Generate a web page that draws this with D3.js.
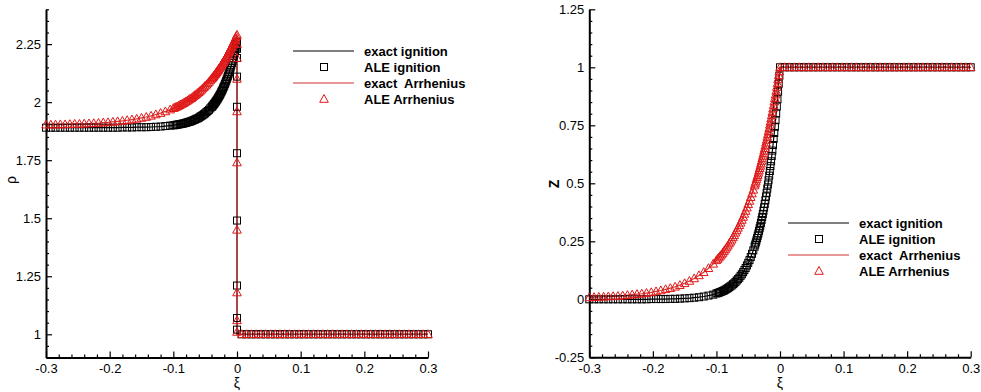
<!DOCTYPE html>
<html>
<head>
<meta charset="utf-8">
<script src="https://cdn.jsdelivr.net/npm/d3@7"></script>
<style>
  body { margin: 0; background: #fff; }
  text { font-family: "Liberation Sans", Arial, Helvetica, sans-serif; }
</style>
</head>
<body>
<svg id="chart" width="981" height="392"></svg>
<script>
// ALE mesh points ahead of the front (xi <= 0), refined close to the front
const xiFront = [-0.3, -0.2925, -0.285, -0.2775, -0.27, -0.2625, -0.255, -0.2475, -0.24, -0.2325,
  -0.225, -0.2175, -0.21, -0.2025, -0.195, -0.1875, -0.18, -0.1725, -0.165, -0.1575,
  -0.15, -0.1425, -0.135, -0.1275, -0.12, -0.1125, -0.105,
  -0.1, -0.098, -0.096, -0.094, -0.092, -0.09, -0.088, -0.086, -0.084, -0.082,
  -0.08, -0.078, -0.076, -0.074, -0.072, -0.07, -0.068, -0.066, -0.064, -0.062,
  -0.06, -0.058, -0.056, -0.054, -0.052, -0.05, -0.048, -0.046, -0.044, -0.042, -0.04,
  -0.039, -0.038, -0.037, -0.036, -0.035, -0.034, -0.033, -0.032, -0.031, -0.03,
  -0.029, -0.028, -0.027, -0.026, -0.025, -0.024, -0.023, -0.022, -0.021, -0.02,
  -0.019, -0.018, -0.017, -0.016, -0.015, -0.014, -0.013, -0.012, -0.011, -0.01,
  -0.009, -0.008, -0.007, -0.006, -0.005, -0.004, -0.003, -0.002, -0.001, 0];

const rhoIgnition = [1.890, 1.890, 1.890, 1.890, 1.890, 1.890, 1.890, 1.890, 1.890, 1.890,
  1.890, 1.890, 1.890, 1.890, 1.890, 1.890, 1.891, 1.891, 1.891, 1.892,
  1.892, 1.892, 1.893, 1.894, 1.895, 1.897, 1.899,
  1.900, 1.901, 1.902, 1.903, 1.904, 1.905, 1.906, 1.907, 1.908, 1.910,
  1.911, 1.913, 1.915, 1.916, 1.918, 1.920, 1.923, 1.925, 1.928, 1.930,
  1.933, 1.937, 1.940, 1.944, 1.948, 1.952, 1.957, 1.962, 1.967, 1.973, 1.979,
  1.982, 1.985, 1.989, 1.992, 1.996, 2.000, 2.004, 2.008, 2.012, 2.017,
  2.021, 2.026, 2.031, 2.036, 2.042, 2.047, 2.053, 2.059, 2.065, 2.071,
  2.078, 2.085, 2.092, 2.099, 2.107, 2.114, 2.123, 2.131, 2.140, 2.149,
  2.158, 2.168, 2.178, 2.189, 2.200, 2.211, 2.222, 2.234, 2.247, 2.260];

const rhoArrhenius = [1.903, 1.903, 1.903, 1.904, 1.904, 1.905, 1.906, 1.906, 1.907, 1.908,
  1.909, 1.910, 1.912, 1.913, 1.915, 1.917, 1.919, 1.922, 1.925, 1.928,
  1.932, 1.936, 1.941, 1.947, 1.953, 1.960, 1.968,
  1.974, 1.976, 1.979, 1.981, 1.984, 1.987, 1.990, 1.993, 1.996, 1.999,
  2.003, 2.006, 2.010, 2.014, 2.017, 2.021, 2.026, 2.030, 2.034, 2.039,
  2.043, 2.048, 2.053, 2.059, 2.064, 2.070, 2.075, 2.081, 2.087, 2.094, 2.100,
  2.104, 2.107, 2.110, 2.114, 2.118, 2.121, 2.125, 2.129, 2.133, 2.137,
  2.140, 2.145, 2.149, 2.153, 2.157, 2.161, 2.166, 2.170, 2.175, 2.179,
  2.184, 2.189, 2.194, 2.199, 2.204, 2.209, 2.214, 2.219, 2.225, 2.230,
  2.236, 2.241, 2.247, 2.253, 2.259, 2.265, 2.271, 2.277, 2.284, 2.290];

const zIgnition = [0, 0, 0, 0, 0, 0, 0, 0, 0, 0,
  0, 0, 0, 0.001, 0.001, 0.001, 0.001, 0.002, 0.002, 0.003,
  0.004, 0.005, 0.007, 0.009, 0.012, 0.016, 0.020,
  0.025, 0.027, 0.029, 0.031, 0.033, 0.036, 0.038, 0.041, 0.045, 0.048,
  0.052, 0.056, 0.060, 0.065, 0.069, 0.075, 0.081, 0.087, 0.093, 0.101,
  0.108, 0.117, 0.126, 0.135, 0.146, 0.157, 0.169, 0.182, 0.196, 0.211, 0.227,
  0.236, 0.245, 0.254, 0.264, 0.274, 0.284, 0.295, 0.306, 0.317, 0.329,
  0.342, 0.355, 0.368, 0.382, 0.396, 0.411, 0.427, 0.443, 0.459, 0.477,
  0.495, 0.513, 0.533, 0.553, 0.574, 0.595, 0.618, 0.641, 0.665, 0.691,
  0.717, 0.744, 0.772, 0.801, 0.831, 0.862, 0.895, 0.929, 0.964, 1];

const zArrhenius = [0.008, 0.009, 0.010, 0.011, 0.012, 0.013, 0.014, 0.016, 0.018, 0.020,
  0.022, 0.024, 0.027, 0.030, 0.034, 0.038, 0.043, 0.048, 0.054, 0.061,
  0.069, 0.079, 0.090, 0.103, 0.117, 0.134, 0.153,
  0.168, 0.174, 0.180, 0.187, 0.193, 0.200, 0.208, 0.215, 0.223, 0.231,
  0.240, 0.248, 0.257, 0.267, 0.276, 0.287, 0.297, 0.308, 0.319, 0.330,
  0.342, 0.355, 0.368, 0.381, 0.395, 0.410, 0.424, 0.440, 0.456, 0.472, 0.490,
  0.498, 0.507, 0.517, 0.526, 0.535, 0.545, 0.555, 0.565, 0.575, 0.585,
  0.596, 0.607, 0.618, 0.629, 0.640, 0.651, 0.663, 0.675, 0.687, 0.700,
  0.712, 0.725, 0.738, 0.752, 0.765, 0.779, 0.793, 0.807, 0.822, 0.837,
  0.852, 0.867, 0.882, 0.898, 0.915, 0.931, 0.948, 0.965, 0.982, 1];

// ALE points sitting inside the shock at xi = 0
const rhoShockIgnition = [2.23, 2.19, 2.11, 1.98, 1.78, 1.49, 1.21, 1.07, 1.02];
const rhoShockArrhenius = [2.25, 2.19, 2.10, 1.96, 1.74, 1.45, 1.18, 1.06, 1.01];

// behind the front (xi > 0)
const xiBehind = [0.0075, 0.015, 0.0225, 0.03, 0.0375, 0.045, 0.0525, 0.06, 0.0675, 0.075,
  0.0825, 0.09, 0.0975, 0.105, 0.1125, 0.12, 0.1275, 0.135, 0.1425, 0.15,
  0.1575, 0.165, 0.1725, 0.18, 0.1875, 0.195, 0.2025, 0.21, 0.2175, 0.225,
  0.2325, 0.24, 0.2475, 0.255, 0.2625, 0.27, 0.2775, 0.285, 0.2925, 0.3];
const rhoBehind = [1, 1, 1, 1, 1, 1, 1, 1, 1, 1, 1, 1, 1, 1, 1, 1, 1, 1, 1, 1,
  1, 1, 1, 1, 1, 1, 1, 1, 1, 1, 1, 1, 1, 1, 1, 1, 1, 1, 1, 1];
const zBehind = [1, 1, 1, 1, 1, 1, 1, 1, 1, 1, 1, 1, 1, 1, 1, 1, 1, 1, 1, 1,
  1, 1, 1, 1, 1, 1, 1, 1, 1, 1, 1, 1, 1, 1, 1, 1, 1, 1, 1, 1];

const xiTicks = [-0.3, -0.2, -0.1, 0, 0.1, 0.2, 0.3];
const rhoTicks = [1, 1.25, 1.5, 1.75, 2, 2.25];
const zTicks = [-0.25, 0, 0.25, 0.5, 0.75, 1, 1.25];
const legendLabels = ["exact ignition", "ALE ignition", "exact  Arrhenius", "ALE Arrhenius"];

const black = "#000";
const redLine = "#d23333";
const redMark = "#e01818";

const svg = d3.select("#chart");

function minorTicks(lo, hi, step, majors) {
  return d3.range(Math.round((hi - lo) / step) + 1)
    .map(i => +(lo + i * step).toFixed(4))
    .filter(v => !majors.some(m => Math.abs(m - v) < 1e-6));
}

function drawPanel(p) {
  const x = d3.scaleLinear().domain([-0.3, 0.3]).range([p.left, p.right]);
  const y = d3.scaleLinear().domain(p.yDomain).range([p.bottom, p.top]);
  const g = svg.append("g");

  // axes, ticks pointing inward
  g.append("g")
    .attr("transform", `translate(0,${p.bottom})`)
    .call(d3.axisBottom(x).tickValues(xiTicks).tickFormat(d => String(d))
      .tickSizeInner(-6).tickSizeOuter(0).tickPadding(6));
  g.append("g")
    .attr("transform", `translate(0,${p.bottom})`)
    .call(d3.axisBottom(x).tickValues(minorTicks(-0.3, 0.3, 0.02, xiTicks))
      .tickFormat("").tickSizeInner(-3).tickSizeOuter(0))
    .call(a => a.select(".domain").remove());
  g.append("g")
    .attr("transform", `translate(${p.left},0)`)
    .call(d3.axisLeft(y).tickValues(p.ticks).tickFormat(d => String(d))
      .tickSizeInner(-6).tickSizeOuter(0).tickPadding(5));
  g.append("g")
    .attr("transform", `translate(${p.left},0)`)
    .call(d3.axisLeft(y).tickValues(minorTicks(p.yDomain[0], p.yDomain[1], 0.05, p.ticks))
      .tickFormat("").tickSizeInner(-3).tickSizeOuter(0))
    .call(a => a.select(".domain").remove());
  g.selectAll(".domain").attr("stroke", black).attr("stroke-width", 2);
  g.selectAll(".tick line").attr("stroke", black).attr("stroke-width", 1.2);
  g.selectAll(".tick text").attr("fill", black).style("font-size", "13px")
    .style("font-family", "'Liberation Sans', Arial, sans-serif");

  // axis titles
  g.append("text")
    .attr("x", (p.left + p.right) / 2).attr("y", 388)
    .attr("text-anchor", "middle").style("font-size", "14px").text("ξ");
  g.append("text")
    .attr("transform", `translate(${p.titleX},${p.titleY}) rotate(-90)`)
    .attr("text-anchor", "middle")
    .style("font-size", "14px").style("font-weight", p.titleBold ? "bold" : "normal")
    .text(p.title);

  const line = d3.line().x(d => x(d[0])).y(d => y(d[1]));

  // exact solutions
  p.exact.forEach(s => {
    g.append("path")
      .datum(s.pts)
      .attr("fill", "none")
      .attr("stroke", s.color)
      .attr("stroke-width", 1.2)
      .attr("d", line);
  });

  // ALE squares
  g.append("g").selectAll("rect")
    .data(p.aleIgn)
    .join("rect")
    .attr("x", d => x(d[0]) - 3.5)
    .attr("y", d => y(d[1]) - 3.5)
    .attr("width", 7).attr("height", 7)
    .attr("fill", "none").attr("stroke", black).attr("stroke-width", 1);

  // ALE triangles
  g.append("g").selectAll("path")
    .data(p.aleArr)
    .join("path")
    .attr("transform", d => `translate(${x(d[0])},${y(d[1])})`)
    .attr("d", "M0,-4.5L4.3,3.3L-4.3,3.3Z")
    .attr("fill", "none").attr("stroke", redMark).attr("stroke-width", 1);

  // legend
  const lg = g.append("g").attr("transform", `translate(${p.legX},${p.legY})`);
  const rows = [0, p.legRow, p.legRow * 2, p.legRow * 3];
  lg.append("line").attr("x1", 0).attr("x2", 61).attr("y1", rows[0]).attr("y2", rows[0])
    .attr("stroke", black).attr("stroke-width", 1.2);
  lg.append("rect").attr("x", 31 - 3.5).attr("y", rows[1] - 3.5).attr("width", 7).attr("height", 7)
    .attr("fill", "none").attr("stroke", black);
  lg.append("line").attr("x1", 0).attr("x2", 61).attr("y1", rows[2]).attr("y2", rows[2])
    .attr("stroke", redLine).attr("stroke-width", 1.2);
  lg.append("path").attr("transform", `translate(31,${rows[3]})`)
    .attr("d", "M0,-4.5L4.3,3.3L-4.3,3.3Z")
    .attr("fill", "none").attr("stroke", redMark);
  lg.selectAll("text.lab")
    .data(legendLabels)
    .join("text")
    .attr("class", "lab")
    .attr("x", 71)
    .attr("y", (d, i) => rows[i] + 4.5)
    .style("font-size", "13px").style("font-weight", "bold")
    .style("white-space", "pre")
    .text(d => d);
}

const front = (vals) => xiFront.map((v, i) => [v, vals[i]]);
const behind = (vals) => xiBehind.map((v, i) => [v, vals[i]]);
const shock = (vals) => vals.map(v => [0, v]);

drawPanel({
  left: 46, right: 428, top: 9.3, bottom: 357.5,
  yDomain: [0.9, 2.4], ticks: rhoTicks,
  title: "ρ", titleBold: false, titleX: 16, titleY: 180,
  exact: [
    { color: black, pts: [...front(rhoIgnition), [0, 1], ...behind(rhoBehind)] },
    { color: redLine, pts: [...front(rhoArrhenius), [0, 1], ...behind(rhoBehind)] }
  ],
  aleIgn: [...front(rhoIgnition), ...shock(rhoShockIgnition), ...behind(rhoBehind)],
  aleArr: [...front(rhoArrhenius), ...shock(rhoShockArrhenius), ...behind(rhoBehind)],
  legX: 293, legY: 51, legRow: 16
});

drawPanel({
  left: 589.3, right: 970.7, top: 9.3, bottom: 357.3,
  yDomain: [-0.25, 1.25], ticks: zTicks,
  title: "Z", titleBold: true, titleX: 559, titleY: 184,
  exact: [
    { color: black, pts: [...front(zIgnition), ...behind(zBehind)] },
    { color: redLine, pts: [...front(zArrhenius), ...behind(zBehind)] }
  ],
  aleIgn: [...front(zIgnition), ...behind(zBehind)],
  aleArr: [...front(zArrhenius), ...behind(zBehind)],
  legX: 788, legY: 223, legRow: 16
});
</script>
</body>
</html>
